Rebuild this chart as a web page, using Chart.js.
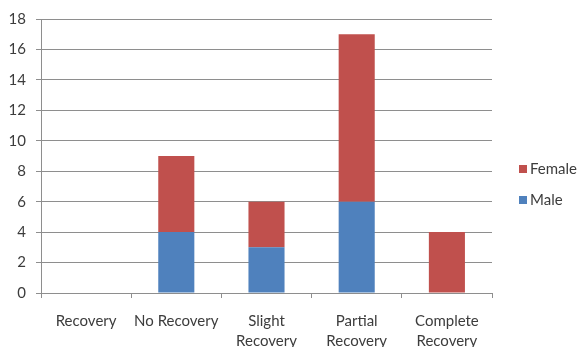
<!DOCTYPE html>
<html>
<head>
<meta charset="utf-8">
<script src="https://cdn.jsdelivr.net/npm/chart.js@4/dist/chart.umd.min.js"></script>
<style>
  html, body { margin: 0; padding: 0; background: #fff; }
  #wrap { width: 584px; height: 347px; }
</style>
</head>
<body>
<div id="wrap"><canvas id="c" width="584" height="347"></canvas></div>
<script>
// Outcome categories (multi-line labels as arrays)
const categories = ['Recovery', 'No Recovery', ['Slight', 'Recovery'], ['Partial', 'Recovery'], ['Complete', 'Recovery']];
// Counts per outcome
const maleCounts = [0, 4, 3, 6, 0];
const femaleCounts = [0, 5, 3, 11, 4];
// Value axis
const yTicks = [0, 2, 4, 6, 8, 10, 12, 14, 16, 18];

const BLUE = '#4F81BD';
const RED = '#C0504D';
const GRID = '#8e8e8e';
const TEXT = '#3c3c3c';
const FONT = { family: 'Lato', size: 15 };

// Empty segments are left out so no hairline shows on the axis
const segment = (vals) => vals.map((v) => (v === 0 ? null : v));

// Legend drawn at the right, Female listed above Male
const sideLegend = {
  id: 'sideLegend',
  afterDraw(chart) {
    const ctx = chart.ctx;
    const items = chart.data.datasets.map((d) => ({ label: d.label, color: d.backgroundColor })).reverse();
    const x0 = 519, y0 = 169, gap = 31, box = 8;
    ctx.save();
    ctx.font = `${FONT.size}px ${FONT.family}`;
    ctx.textBaseline = 'middle';
    ctx.textAlign = 'left';
    items.forEach((it, i) => {
      const y = y0 + i * gap;
      ctx.fillStyle = it.color;
      ctx.fillRect(x0, y - box / 2, box, box);
      ctx.fillStyle = TEXT;
      ctx.fillText(it.label, x0 + 11, y);
    });
    ctx.restore();
  }
};

new Chart(document.getElementById('c'), {
  type: 'bar',
  data: {
    labels: categories,
    datasets: [
      { label: 'Male', data: segment(maleCounts), backgroundColor: BLUE, barPercentage: 0.4, categoryPercentage: 1 },
      { label: 'Female', data: segment(femaleCounts), backgroundColor: RED, barPercentage: 0.4, categoryPercentage: 1 }
    ]
  },
  options: {
    responsive: false,
    animation: false,
    devicePixelRatio: 1,
    layout: { padding: { top: 19, right: 92, left: 0, bottom: 0 } },
    plugins: { legend: { display: false }, tooltip: { enabled: false } },
    scales: {
      x: {
        stacked: true,
        afterFit(scale) { scale.height = 54; },
        grid: { drawOnChartArea: false, drawTicks: true, tickLength: 5, color: GRID, offset: true },
        border: { display: true, color: GRID },
        ticks: { color: TEXT, font: { ...FONT, lineHeight: 1.35 }, padding: 13, maxRotation: 0, autoSkip: false }
      },
      y: {
        stacked: true,
        min: 0,
        max: 18,
        afterFit(scale) { scale.width = 41; },
        afterBuildTicks(scale) { scale.ticks = yTicks.map((v) => ({ value: v })); },
        grid: { color: GRID, tickLength: 5 },
        border: { display: true, color: GRID },
        ticks: { color: TEXT, font: FONT, padding: 10 }
      }
    }
  },
  plugins: [sideLegend]
});
</script>
</body>
</html>
